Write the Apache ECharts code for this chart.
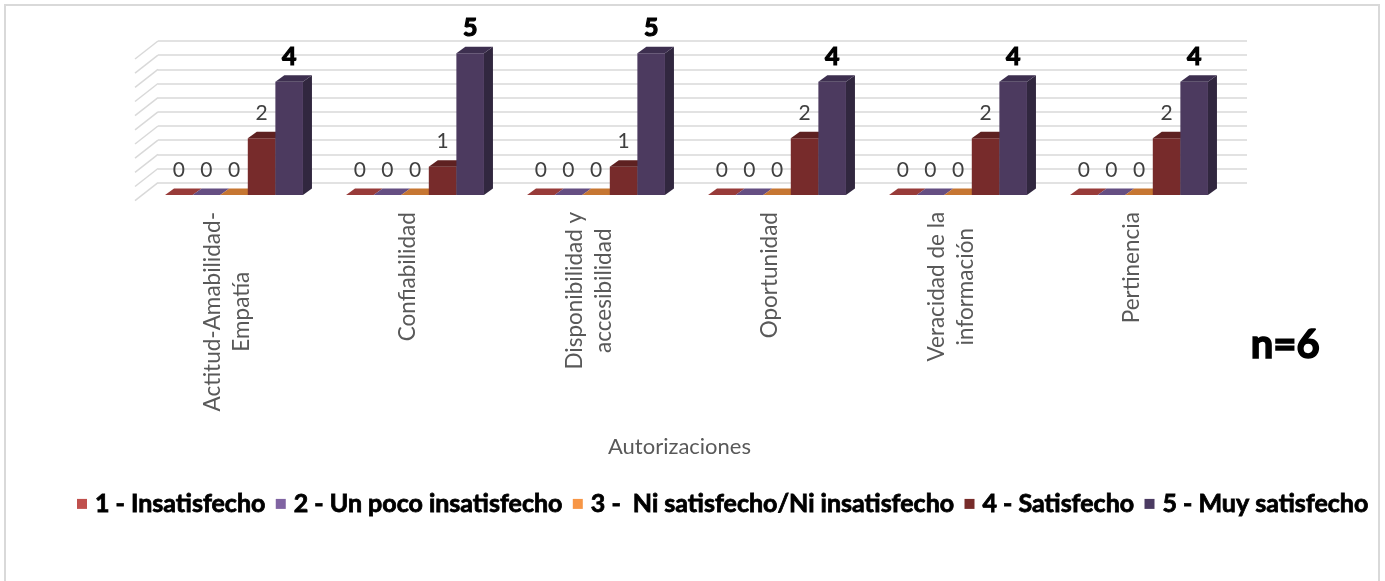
<!DOCTYPE html>
<html>
<head>
<meta charset="utf-8">
<script src="https://cdn.jsdelivr.net/npm/echarts@6/dist/echarts.min.js"></script>
<style>
  html, body { margin: 0; padding: 0; background: #ffffff; }
  #chart { width: 1385px; height: 581px; }
</style>
</head>
<body>
<div id="chart"></div>
<script>
// Categories and survey counts per satisfaction level
const categories = [
  'Actitud-Amabilidad-\nEmpatía',
  'Confiabilidad',
  'Disponibilidad y\naccesibilidad',
  'Oportunidad',
  'Veracidad de la\ninformación',
  'Pertinencia'
];
const seriesNames = [
  '1 - Insatisfecho',
  '2 - Un poco insatisfecho',
  '3 -  Ni satisfecho/Ni insatisfecho',
  '4 - Satisfecho',
  '5 - Muy satisfecho'
];
const insatisfecho     = [0, 0, 0, 0, 0, 0];
const pocoInsatisfecho = [0, 0, 0, 0, 0, 0];
const neutral          = [0, 0, 0, 0, 0, 0];
const satisfecho       = [2, 1, 1, 2, 2, 2];
const muySatisfecho    = [4, 5, 5, 4, 4, 4];
const wallTicks = [0, 0.5, 1, 1.5, 2, 2.5, 3, 3.5, 4, 4.5, 5];
const sampleNote = 'n=6';
const axisTitle = 'Autorizaciones';

const seriesValues = [insatisfecho, pocoInsatisfecho, neutral, satisfecho, muySatisfecho];

// Face shading for each level: legend swatch, front, top and side faces
const palette = [
  { legend: '#C0504D', front: '#C0504D', top: '#983B39', side: '#7F312F' },
  { legend: '#8064A2', front: '#8064A2', top: '#654E82', side: '#52406A' },
  { legend: '#F79646', front: '#F79646', top: '#C67632', side: '#A8632A' },
  { legend: '#772C2A', front: '#772B2B', top: '#5E2121', side: '#571E1E' },
  { legend: '#4B3B62', front: '#4C3A5F', top: '#3D2F4F', side: '#31273F' }
];

const DEPTH_X = 9, DEPTH_Y = -6.5;      // bar depth offset
const SIDE_X = -23, SIDE_Y = 18;        // side wall slant
const GROUP_FILL = 0.762;               // share of a category band used by the bars

const LABEL_FONT = 'Lato';
const LABEL_SIZE = 22.5;

// Width of the longest line of each category, so the lines can be centred
const measureCtx = document.createElement('canvas').getContext('2d');
measureCtx.font = LABEL_SIZE + 'px ' + LABEL_FONT;
const rich = {};
categories.forEach(function (c, i) {
  const w = Math.max.apply(null, c.split('\n').map(function (l) { return measureCtx.measureText(l).width; }));
  rich['r' + i] = {
    width: Math.ceil(w) + 2, align: 'center', fontSize: LABEL_SIZE,
    fontFamily: LABEL_FONT, color: '#595959', lineHeight: 29
  };
});

function barRenderer(k) {
  return function (params, api) {
    const cat = api.value(0);
    const v = api.value(1);
    const base = api.coord([cat, 0]);
    const top = api.coord([cat, v]);
    const band = api.size([1, 0])[0];
    const groupW = band * GROUP_FILL;
    const bw = groupW / 5;
    const x0 = base[0] - groupW / 2 + k * bw;
    const x1 = x0 + bw;
    const yb = base[1];
    const yt = top[1];
    const col = palette[k];
    const children = [];
    if (v > 0) {
      children.push({
        type: 'rect',
        shape: { x: x0, y: yt, width: bw, height: yb - yt },
        style: { fill: col.front }
      });
      children.push({
        type: 'polygon',
        shape: { points: [[x1, yt], [x1 + DEPTH_X, yt + DEPTH_Y], [x1 + DEPTH_X, yb + DEPTH_Y], [x1, yb]] },
        style: { fill: col.side }
      });
    }
    children.push({
      type: 'polygon',
      shape: { points: [[x0, yt], [x1, yt], [x1 + DEPTH_X, yt + DEPTH_Y], [x0 + DEPTH_X, yt + DEPTH_Y]] },
      style: { fill: col.top }
    });
    const strong = k === 4;
    children.push({
      type: 'text',
      style: {
        x: (x0 + x1) / 2, y: yt - 25,
        text: String(v),
        align: 'center', verticalAlign: 'middle',
        fill: strong ? '#000000' : '#404040',
        stroke: strong ? '#000000' : null,
        lineWidth: strong ? 1.2 : 0,
        font: (strong ? 'bold 25px ' : '21px ') + LABEL_FONT
      }
    });
    return { type: 'group', children: children };
  };
}

const chart = echarts.init(document.getElementById('chart'), null, { renderer: 'canvas' });

const series = [{
  // slanted gridlines on the left side wall
  type: 'custom',
  name: 'wall',
  xAxisIndex: 1, yAxisIndex: 1,
  silent: true,
  data: wallTicks.map(function (t) { return [0, t]; }),
  renderItem: function (params, api) {
    const p = api.coord([0, api.value(1)]);
    return {
      type: 'line',
      shape: { x1: p[0], y1: p[1], x2: p[0] + SIDE_X, y2: p[1] + SIDE_Y },
      style: { stroke: '#D9D9D9', lineWidth: 1.5 }
    };
  },
  z: 1
}];

seriesValues.forEach(function (vals, k) {
  series.push({
    type: 'custom',
    name: seriesNames[k],
    xAxisIndex: 0, yAxisIndex: 0,
    itemStyle: { color: palette[k].legend },
    encode: { x: 0, y: 1 },
    data: vals.map(function (v, i) { return [i, v]; }),
    renderItem: barRenderer(k),
    z: 3
  });
});

chart.setOption({
  animation: false,
  backgroundColor: '#ffffff',
  grid: [
    { left: 143.5, top: 53.3, width: 1086, height: 141.7 },   // front plane of the bars
    { left: 158, top: 41, width: 1089, height: 141.7 },       // back wall
    { left: 136.5, top: 59, width: 1086, height: 141.7 }      // floor edge for category labels
  ],
  xAxis: [
    { type: 'category', gridIndex: 0, data: categories, show: false },
    { type: 'value', gridIndex: 1, min: 0, max: 1, show: false },
    {
      type: 'category', gridIndex: 2, data: categories,
      axisLine: { show: false }, axisTick: { show: false },
      axisLabel: {
        rotate: 90, margin: 10, interval: 0,
        formatter: function (value, idx) {
          return value.split('\n').map(function (l) { return '{r' + idx + '|' + l + '}'; }).join('\n');
        },
        rich: rich
      },
      name: axisTitle, nameLocation: 'middle', nameGap: 235,
      nameTextStyle: { color: '#595959', fontSize: 22, fontFamily: LABEL_FONT }
    }
  ],
  yAxis: [
    { type: 'value', gridIndex: 0, min: 0, max: 5, show: false },
    {
      type: 'value', gridIndex: 1, min: 0, max: 5, interval: 0.5,
      axisLine: { show: false }, axisTick: { show: false }, axisLabel: { show: false },
      splitLine: { show: true, lineStyle: { color: '#D9D9D9', width: 1.5 } }
    },
    { type: 'value', gridIndex: 2, min: 0, max: 5, show: false }
  ],
  legend: {
    data: seriesNames,
    left: 72, top: 486,
    icon: 'rect', itemWidth: 10, itemHeight: 10, itemGap: 10,
    textStyle: {
      fontFamily: LABEL_FONT, fontWeight: 'bold', fontSize: 25, color: '#000000',
      textBorderColor: '#000000', textBorderWidth: 0.8, padding: [0, 0, 0, 3]
    },
    selectedMode: false
  },
  graphic: [
    {
      type: 'rect', silent: true, z: -1,
      shape: { x: 5, y: 5, width: 1374, height: 620 },
      style: { fill: 'none', stroke: '#D9D9D9', lineWidth: 2 }
    },
    {
      type: 'text', left: 1250, top: 324,
      style: { text: sampleNote, font: 'bold 40px ' + LABEL_FONT, fill: '#000000', stroke: '#000000', lineWidth: 1.5 }
    }
  ],
  series: series
});
</script>
</body>
</html>
